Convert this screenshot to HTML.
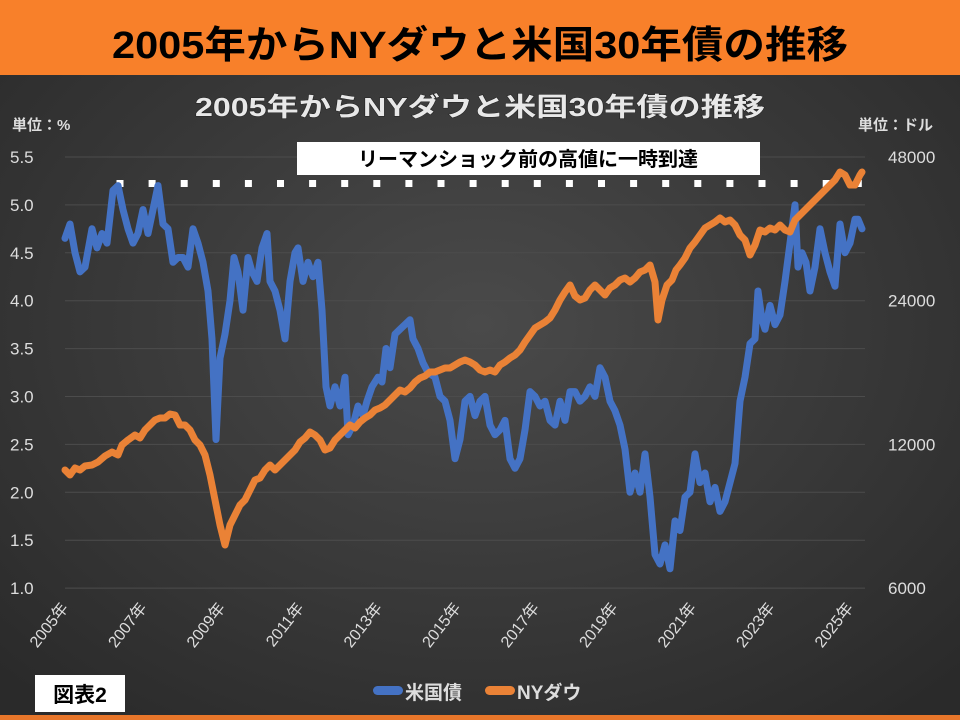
<!DOCTYPE html>
<html><head><meta charset="utf-8"><style>
html,body{margin:0;padding:0;width:960px;height:720px;overflow:hidden;background:#333}
svg text{font-family:"Liberation Sans","Noto Sans CJK JP",sans-serif}
</style></head><body>
<svg id="s" width="960" height="720" xmlns="http://www.w3.org/2000/svg">
<defs>
<radialGradient id="bg" cx="50%" cy="45%" r="70%">
<stop offset="0" stop-color="#4a4a4a"/><stop offset="1" stop-color="#2a2a2a"/>
</radialGradient>
</defs>
<rect x="0" y="0" width="960" height="720" fill="url(#bg)"/>
<rect x="0" y="0" width="960" height="75" fill="#F8802A"/>
<rect x="0" y="715" width="960" height="5" fill="#E8762A"/>
<text x="480" y="58" text-anchor="middle" font-size="38" font-weight="bold" fill="#000" textLength="736" lengthAdjust="spacingAndGlyphs">2005年からNYダウと米国30年債の推移</text>
<text x="480" y="116" text-anchor="middle" font-size="26" font-weight="bold" fill="#e8e8e8" textLength="570" lengthAdjust="spacingAndGlyphs" style="paint-order:stroke" stroke="#222" stroke-width="1">2005年からNYダウと米国30年債の推移</text>
<text x="12" y="130" font-size="15" font-weight="bold" fill="#ddd">単位：%</text>
<text x="858" y="130" font-size="15" font-weight="bold" fill="#ddd">単位：ドル</text>
<g id="grid" stroke="#4c4c4c" stroke-width="1"></g>
<g id="lab" font-size="17" fill="#ddd"></g>
<rect x="297" y="142" width="463" height="33" fill="#fff"/>
<text x="528" y="166" text-anchor="middle" font-size="20" font-weight="bold" fill="#000">リーマンショック前の高値に一時到達</text>
<g id="dots" fill="#fff"></g>
<polyline id="blue" fill="none" stroke="#4472C4" stroke-width="7" stroke-linejoin="round" stroke-linecap="round"/>
<polyline id="orange" fill="none" stroke="#EA8236" stroke-width="7" stroke-linejoin="round" stroke-linecap="round"/>
<g id="xl" font-size="16" fill="#ddd"></g>
<rect x="35" y="675" width="90" height="37" fill="#fff"/>
<text x="80" y="702" text-anchor="middle" font-size="21" font-weight="bold" fill="#000">図表2</text>
<rect x="373" y="686" width="30" height="9" rx="4.5" fill="#4472C4"/>
<text x="405" y="699" font-size="19" font-weight="bold" fill="#ddd">米国債</text>
<rect x="485" y="686" width="30" height="9" rx="4.5" fill="#EA8236"/>
<text x="517" y="699" font-size="19" font-weight="bold" fill="#ddd">NYダウ</text>
</svg>
<script>
var NS="http://www.w3.org/2000/svg";
function el(t,a,p,txt){var e=document.createElementNS(NS,t);for(var k in a)e.setAttribute(k,a[k]);if(txt)e.textContent=txt;document.getElementById(p).appendChild(e);return e;}
var L=["5.5","5.0","4.5","4.0","3.5","3.0","2.5","2.0","1.5","1.0"];
for(var i=0;i<10;i++){var y=157+i*47.9;el("line",{x1:65,x2:865,y1:y,y2:y},"grid");el("text",{x:10,y:y+6},"lab",L[i]);}
[["48000",157],["24000",300.7],["12000",444.3],["6000",588]].forEach(function(r){el("text",{x:888,y:r[1]+6},"lab",r[0]);});
for(var x=120;x<=890;x+=32.1)el("rect",{x:x-3.5,y:180,width:7,height:7},"dots");
for(var i=0;i<11;i++){var x=65+i*78.5;el("text",{x:0,y:0,transform:"translate("+(x+4)+",608) rotate(-52)","text-anchor":"end"},"xl",(2005+2*i)+"年");}
var b=[65,4.65,70,4.8,75,4.5,80,4.3,85,4.35,92,4.75,97,4.55,102,4.7,107,4.6,113,5.15,118,5.2,123,4.95,128,4.75,133,4.6,138,4.7,143,4.95,148,4.7,153,4.95,158,5.2,163,4.8,168,4.75,173,4.4,178,4.45,183,4.45,188,4.35,193,4.75,198,4.6,203,4.4,208,4.1,212,3.6,216,2.55,220,3.4,225,3.65,230,4.0,234,4.45,238,4.3,243,3.9,248,4.45,252,4.3,257,4.2,262,4.55,267,4.7,270,4.2,275,4.1,280,3.9,285,3.6,290,4.2,295,4.5,298,4.55,303,4.2,308,4.4,313,4.25,318,4.4,322,3.9,326,3.1,330,2.9,335,3.1,340,2.9,345,3.2,348,2.6,353,2.7,358,2.9,363,2.8,367,2.95,372,3.1,378,3.2,382,3.15,386,3.5,390,3.3,395,3.65,400,3.7,405,3.75,410,3.8,413,3.6,418,3.5,423,3.35,428,3.25,435,3.2,440,3.0,445,2.95,450,2.75,455,2.35,460,2.55,465,2.95,470,3.0,475,2.8,480,2.95,485,3.0,490,2.7,495,2.6,500,2.65,505,2.75,510,2.35,515,2.25,520,2.35,525,2.65,530,3.05,535,3.0,540,2.9,545,2.95,550,2.75,555,2.7,560,2.95,565,2.75,570,3.05,575,3.05,580,2.95,585,3.0,590,3.1,595,3.0,600,3.3,605,3.2,610,2.95,615,2.85,620,2.7,625,2.45,630,2.0,635,2.2,640,2.0,645,2.4,650,1.95,655,1.35,660,1.25,665,1.45,670,1.2,675,1.7,680,1.6,685,1.95,690,2.0,695,2.4,700,2.1,705,2.2,710,1.9,715,2.05,720,1.8,725,1.9,730,2.1,735,2.3,740,2.95,745,3.2,750,3.55,755,3.6,758,4.1,762,3.8,765,3.7,770,3.95,775,3.75,780,3.85,785,4.2,790,4.6,795,5.0,798,4.35,802,4.5,806,4.4,810,4.1,815,4.35,820,4.75,825,4.5,830,4.3,835,4.15,840,4.8,845,4.5,850,4.6,855,4.85,858,4.85,862,4.75];
var p=[];for(var i=0;i<b.length;i+=2)p.push(b[i]+","+(588-(b[i+1]-1)*95.8).toFixed(1));
document.getElementById("blue").setAttribute("points",p.join(" "));
var o=[65,470,70,475,75,468,80,470,85,466,92,465,98,462,105,456,112,452,118,455,122,445,128,440,135,435,140,438,145,430,150,425,155,420,160,418,165,418,170,414,175,415,180,425,185,425,190,430,195,440,200,445,205,455,210,475,215,500,220,525,225,545,230,525,235,515,240,505,245,500,250,490,255,480,260,478,265,470,270,465,275,470,280,465,285,460,290,455,295,450,300,442,305,438,310,432,315,435,320,440,325,450,330,448,335,440,340,435,345,430,350,425,355,428,360,422,365,418,370,415,375,410,380,408,385,405,390,400,395,395,400,390,405,392,410,388,415,382,420,378,425,376,430,372,435,372,440,370,445,368,450,368,455,365,460,362,465,360,470,362,475,365,480,370,485,372,490,370,495,372,500,365,505,362,510,358,515,355,520,350,525,342,530,335,535,328,540,325,545,322,550,318,555,310,560,300,565,292,570,285,575,296,580,300,585,298,590,290,595,285,600,290,605,295,610,288,615,285,620,280,625,278,630,282,635,278,640,272,645,270,650,265,655,282,658,320,662,300,667,285,672,280,676,270,680,265,685,258,690,248,695,242,700,235,705,228,710,225,715,222,720,218,725,222,730,220,735,225,740,235,745,240,750,255,755,245,760,230,765,232,770,228,775,230,780,225,785,230,790,232,795,220,800,215,805,210,810,205,815,200,820,195,825,190,830,185,835,180,840,172,845,175,850,185,855,185,860,175,862,172];
var q=[];for(var i=0;i<o.length;i+=2)q.push(o[i]+","+o[i+1]);
document.getElementById("orange").setAttribute("points",q.join(" "));
</script>
</body></html>
